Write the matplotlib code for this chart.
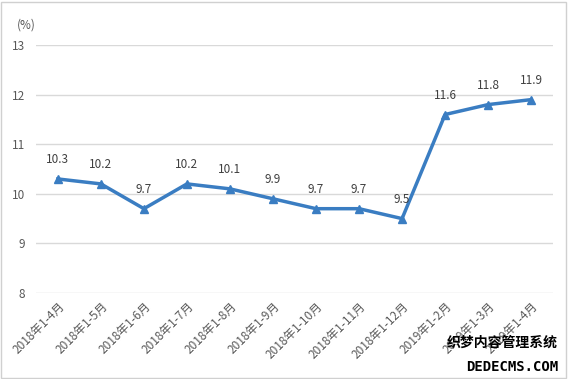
import matplotlib.pyplot as plt
from matplotlib.patches import Rectangle

plt.rcParams['font.family'] = ['Noto Sans CJK SC', 'DejaVu Sans']

# 月份标签和数值
months = ['2018年1-4月', '2018年1-5月', '2018年1-6月', '2018年1-7月', '2018年1-8月',
          '2018年1-9月', '2018年1-10月', '2018年1-11月', '2018年1-12月',
          '2019年1-2月', '2019年1-3月', '2019年1-4月']
values = [10.3, 10.2, 9.7, 10.2, 10.1, 9.9, 9.7, 9.7, 9.5, 11.6, 11.8, 11.9]
yticks = [8, 9, 10, 11, 12, 13]

fig = plt.figure(figsize=(5.68, 3.79), dpi=100)
ax = fig.add_axes([0.064, 0.227, 0.909, 0.654])

x = list(range(len(months)))
ax.plot(x, values, color='#3A7DC2', linewidth=2.5, marker='^', markersize=6,
        zorder=3)

for xi, v in zip(x, values):
    ax.annotate(f'{v:.1f}', (xi, v), xytext=(0, 9), textcoords='offset points',
                ha='center', va='bottom', fontsize=8.5, color='#404040')

ax.set_xlim(-0.5, len(months) - 0.5)
ax.set_ylim(8, 13)
ax.set_yticks(yticks)
ax.set_yticklabels([str(t) for t in yticks], fontsize=8.5, color='#595959')
ax.set_xticks(x)
ax.set_xticklabels(months, rotation=45, ha='right', rotation_mode='anchor',
                   fontsize=8.5, color='#595959')
ax.tick_params(length=0, pad=8)
ax.tick_params(axis='x', pad=5)
ax.grid(axis='y', color='#D9D9D9', linewidth=1)
ax.set_axisbelow(True)
for s in ax.spines.values():
    s.set_visible(False)

fig.text(0.03, 0.925, '(%)', fontsize=8.5, color='#595959')

# 右下角水印
fig.text(0.982, 0.085, '织梦内容管理系统', fontsize=10, color='black', ha='right',
         fontweight='bold')
fig.text(0.982, 0.02, 'DEDECMS.COM', fontsize=10, color='black', ha='right',
         fontweight='bold', family='DejaVu Sans Mono')

fig.patches.append(Rectangle((0.002, 0.003), 0.995, 0.993, transform=fig.transFigure,
                             fill=False, edgecolor='#D0D0D0', linewidth=1))

fig.savefig('out.png', dpi=100)
